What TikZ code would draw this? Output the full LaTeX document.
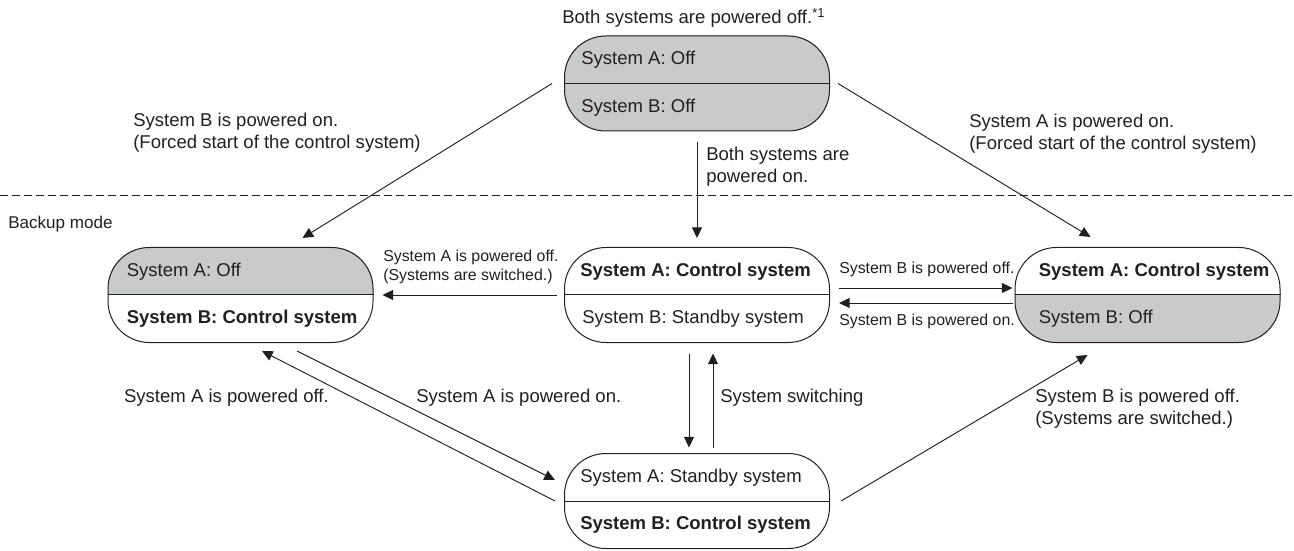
\documentclass[tikz,border=0pt]{standalone}
\usepackage{fontspec}
\setmainfont{Liberation Sans}
\usetikzlibrary{arrows.meta,calc,backgrounds}
\definecolor{ink}{HTML}{231F20}
\definecolor{offgray}{HTML}{C9CACC}
\tikzset{
  >={Triangle[length=8pt,width=7.5pt]},
  every node/.style={text=ink},
  statebox/.style={draw=ink,line width=0.75pt,rounded corners=31pt,minimum width=198.75pt,minimum height=71.25pt,inner sep=0pt},
  stxt/.style={anchor=west,inner sep=0pt,font=\fontsize{13.9pt}{16.5pt}\selectfont},
  stxtb/.style={stxt,font=\fontsize{13.9pt}{16.5pt}\selectfont\bfseries},
  lbl/.style={inner sep=0pt,align=left,font=\fontsize{13.9pt}{16.5pt}\selectfont},
  slbl/.style={lbl,font=\fontsize{11.9pt}{14.25pt}\selectfont},
  trans/.style={->,draw=ink,line width=0.7pt},
  divider/.style={draw=ink,line width=0.75pt},
  modeline/.style={draw=ink,line width=0.6pt,dash pattern=on 6pt off 3pt},
}

\begin{document}
\begin{tikzpicture}[x=0.75pt,y=0.75pt]
\useasboundingbox (0,0) rectangle (1294,550);

% ---------- states ----------
\node[statebox] (off) at (697,466.5) {};
\node[statebox] (bonly) at (240.5,255) {};
\node[statebox] (anorm) at (697,255) {};
\node[statebox] (aonly) at (1147.5,255) {};
\node[statebox] (bnorm) at (697,49) {};

\begin{scope}[on background layer]
\foreach \n/\h in {off/north east,off/south east,bonly/north east,aonly/south east} {
  \begin{scope}
    \clip[rounded corners=31pt] (\n.south west) rectangle (\n.north east);
    \fill[offgray] (\n.west) rectangle (\n.\h);
  \end{scope}
}
\end{scope}
\foreach \n in {off,bonly,anorm,aonly,bnorm} {\draw[divider] (\n.west) -- (\n.east);}

\node[stxt] (off-a) at ($(off.west)+(17,23.75)$) {System A: Off};
\node[stxt] (off-b) at ($(off.west)+(17,-23.75)$) {System B: Off};
\node[stxt] (bonly-a) at ($(bonly.west)+(19,23.75)$) {System A: Off};
\node[stxtb] (bonly-b) at ($(bonly.west)+(19,-23.75)$) {System B: Control system};
\node[stxtb] (anorm-a) at ($(anorm.west)+(16,23.75)$) {System A: Control system};
\node[stxt] (anorm-b) at ($(anorm.west)+(18,-23.75)$) {System B: Standby system};
\node[stxtb] (aonly-a) at ($(aonly.west)+(24,23.75)$) {System A: Control system};
\node[stxt] (aonly-b) at ($(aonly.west)+(24,-23.75)$) {System B: Off};
\node[stxt] (bnorm-a) at ($(bnorm.west)+(16,23.75)$) {System A: Standby system};
\node[stxtb] (bnorm-b) at ($(bnorm.west)+(16,-23.75)$) {System B: Control system};

% ---------- backup mode boundary ----------
\coordinate (mode-l) at (0,355);
\coordinate (mode-r) at (1294,355);
\draw[modeline] (mode-l) -- (mode-r);
\node[lbl,anchor=west,font=\fontsize{12.8pt}{15pt}\selectfont] (backup) at (8,326) {Backup mode};

% ---------- transitions ----------
\draw[trans] ($(off.west)+(-12,0)$) -- ($(bonly.north)+(62,9)$);
\draw[trans] ($(off.east)+(8,0)$) -- ($(aonly.north)+(-57,10)$);
\draw[trans] ($(off.south)+(0,-11)$) -- ($(anorm.north)+(0,9)$);
\draw[trans] ($(anorm.west)+(-7,0)$) -- ($(bonly.east)+(9,0)$);
\draw[trans] ($(anorm.east)+(9,7)$) -- ($(aonly.west)+(-2,7)$);
\draw[trans] ($(aonly.west)+(-2,-8)$) -- ($(anorm.east)+(9,-8)$);
\draw[trans] ($(bnorm.west)+(-9,0)$) -- ($(bonly.south)+(21.5,-8)$);
\draw[trans] ($(bonly.south)+(56.5,-8)$) -- ($(bnorm.west)+(-9,21)$);
\draw[trans] ($(anorm.south)+(-8,-10.5)$) -- ($(bnorm.north)+(-8,5.5)$);
\draw[trans] ($(bnorm.north)+(16,5.5)$) -- ($(anorm.south)+(16,-10.5)$);
\draw[trans] ($(bnorm.east)+(11,0)$) -- ($(aonly.south)+(-60,-12)$);

% ---------- labels ----------
\node[lbl,anchor=base west] (both-off) at (562,526) {Both systems are powered off.\textsuperscript{*1}};
\node[lbl,anchor=west] (lbl-bon) at (133,417.5) {System B is powered on.\\(Forced start of the control system)};
\node[lbl,anchor=west] (lbl-aon) at (969,416) {System A is powered on.\\(Forced start of the control system)};
\node[lbl,anchor=west] (lbl-both) at (706,383.5) {Both systems are\\powered on.};
\node[slbl,anchor=west] (lbl-aoff) at (383,283) {System A is powered off.\\(Systems are switched.)};
\node[slbl,anchor=west] (lbl-boff) at (839,280.7) {System B is powered off.};
\node[slbl,anchor=west] (lbl-bon2) at (839,228.7) {System B is powered on.};
\node[lbl,anchor=east] (lbl-aoff2) at (329,152) {System A is powered off.};
\node[lbl,anchor=west] (lbl-aon2) at (416,152) {System A is powered on.};
\node[lbl,anchor=west] (lbl-switch) at (720,152) {System switching};
\node[lbl,anchor=west] (lbl-boff2) at (1035,141.5) {System B is powered off.\\(Systems are switched.)};

\end{tikzpicture}
\end{document}
